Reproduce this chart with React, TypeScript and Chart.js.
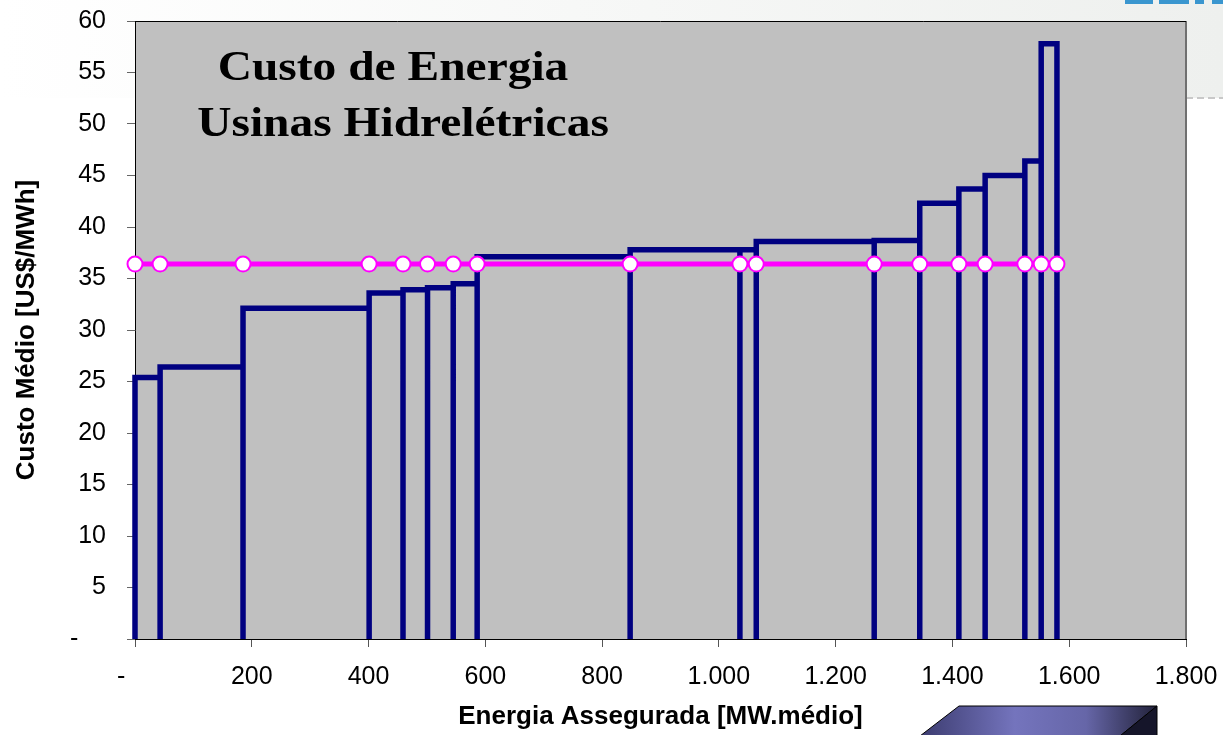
import React, { useEffect, useRef } from "react";
import { Chart, registerables } from "chart.js";

Chart.register(...registerables);

// Cumulative assured energy at each plant boundary [MW.médio]
const boundaries = [0, 43, 185, 401, 459, 501, 545, 586, 848, 1036, 1064, 1266, 1344, 1411, 1456, 1524, 1552, 1579];
// Average cost of each plant block [US$/MWh]
const costs = [25.4, 26.4, 32.1, 33.6, 33.9, 34.1, 34.5, 37.1, 37.8, 37.8, 38.6, 38.7, 42.3, 43.7, 45.0, 46.4, 57.8];
// Reference (marginal) price line [US$/MWh]
const referencePrice = 36.4;

const titleLines = ["Custo de Energia", "Usinas Hidrelétricas"];
const xAxisTitle = "Energia Assegurada [MW.médio]";
const yAxisTitle = "Custo Médio [US$/MWh]";
const xTicks = { min: 0, max: 1800, step: 200 };
const yTicks = { min: 0, max: 60, step: 5 };

const SANS = "Arial, 'Liberation Sans', sans-serif";
const SERIF = "'Times New Roman', 'Liberation Serif', serif";

function fmtThousands(v: number): string {
  if (v === 0) return "-    ";
  return String(v).replace(/\B(?=(\d{3})+(?!\d))/g, ".");
}

function buildSteps() {
  const pts: { x: number; y: number }[] = [];
  boundaries.forEach((b, i) => {
    if (i === 0) {
      pts.push({ x: b, y: 0 });
      pts.push({ x: b, y: costs[0] });
    } else {
      pts.push({ x: b, y: costs[i - 1] });
      pts.push({ x: b, y: 0 });
      if (i < costs.length) pts.push({ x: b, y: costs[i] });
    }
  });
  return pts;
}

const decorPlugin = {
  id: "decor",
  beforeDraw(chart: any) {
    const { ctx, chartArea } = chart;
    const W = chart.width;
    ctx.save();
    // top band
    const g = ctx.createLinearGradient(0, 0, W, 0);
    g.addColorStop(0, "#ffffff");
    g.addColorStop(1, "#eef0ee");
    ctx.fillStyle = g;
    ctx.fillRect(0, 0, W, 98);
    // logo fragments
    ctx.fillStyle = "#3a96cf";
    [[1125, 1153], [1159, 1189], [1195, 1204], [1212, 1223]].forEach(([a, b]) => ctx.fillRect(a, 0, b - a, 4));
    // dashed separator
    ctx.strokeStyle = "#c8c8c8";
    ctx.lineWidth = 2;
    ctx.setLineDash([7, 4]);
    ctx.beginPath();
    ctx.moveTo(chartArea.right, 98);
    ctx.lineTo(W, 98);
    ctx.stroke();
    ctx.setLineDash([]);
    // 3D box at bottom
    const tg = ctx.createLinearGradient(920, 0, 1157, 0);
    tg.addColorStop(0, "#3c3c70");
    tg.addColorStop(0.4, "#7474bd");
    tg.addColorStop(0.7, "#6666a8");
    tg.addColorStop(1, "#22223a");
    ctx.fillStyle = tg;
    ctx.beginPath();
    ctx.moveTo(959, 706);
    ctx.lineTo(1157, 706);
    ctx.lineTo(1120, 736);
    ctx.lineTo(920, 736);
    ctx.closePath();
    ctx.fill();
    ctx.strokeStyle = "#000";
    ctx.lineWidth = 1;
    ctx.stroke();
    ctx.fillStyle = "#15152a";
    ctx.beginPath();
    ctx.moveTo(1157, 706);
    ctx.lineTo(1157, 736);
    ctx.lineTo(1120, 736);
    ctx.closePath();
    ctx.fill();
    ctx.stroke();
    // plot background
    ctx.fillStyle = "#c0c0c0";
    ctx.fillRect(chartArea.left, chartArea.top, chartArea.right - chartArea.left, chartArea.bottom - chartArea.top);
    // right shadow border
    ctx.fillStyle = "#707070";
    ctx.fillRect(chartArea.right - 1, chartArea.top, 2, chartArea.bottom - chartArea.top);
    ctx.restore();
  },
  afterDraw(chart: any) {
    const { ctx, chartArea } = chart;
    ctx.save();
    // top border
    ctx.strokeStyle = "#000";
    ctx.lineWidth = 1;
    ctx.beginPath();
    ctx.moveTo(chartArea.left, chartArea.top + 0.5);
    ctx.lineTo(chartArea.right, chartArea.top + 0.5);
    ctx.stroke();
    // in-plot title
    ctx.fillStyle = "#000";
    ctx.font = `bold 42px ${SERIF}`;
    ctx.textAlign = "center";
    ctx.textBaseline = "alphabetic";
    const centers = [393, 403];
    const baselines = [80, 136];
    titleLines.forEach((t, i) => {
      ctx.save();
      ctx.translate(centers[i], baselines[i]);
      ctx.scale(1.13, 1);
      ctx.fillText(t, 0, 0);
      ctx.restore();
    });
    ctx.restore();
  },
};

export default function App() {
  const ref = useRef<HTMLCanvasElement | null>(null);
  useEffect(() => {
    if (!ref.current) return;
    const chart = new Chart(ref.current, {
      type: "line",
      data: {
        datasets: [
          {
            label: "Preço de referência",
            data: boundaries.map((b) => ({ x: b, y: referencePrice })),
            borderColor: "#ff00ff",
            borderWidth: 5,
            pointRadius: 7.5,
            pointBorderWidth: 2,
            pointBorderColor: "#ff00ff",
            pointBackgroundColor: "#ffffff",
            tension: 0,
            clip: false,
            order: 0,
          },
          {
            label: "Custo médio",
            data: buildSteps(),
            borderColor: "#000080",
            borderWidth: 5.5,
            borderJoinStyle: "miter",
            pointRadius: 0,
            tension: 0,
            clip: false,
            order: 1,
          },
        ],
      },
      options: {
        animation: false,
        responsive: false,
        devicePixelRatio: 1,
        layout: { padding: { top: 21, right: 37, left: 0, bottom: 0 } },
        plugins: { legend: { display: false }, tooltip: { enabled: false } },
        scales: {
          x: {
            type: "linear",
            min: xTicks.min,
            max: xTicks.max,
            afterFit: (s: any) => {
              s.height = 96;
              s.paddingLeft = 0;
              s.paddingRight = 0;
            },
            ticks: {
              stepSize: xTicks.step,
              color: "#000",
              font: { size: 25, family: SANS },
              padding: 15,
              maxRotation: 0,
              callback: (v: any) => fmtThousands(Number(v)),
            },
            grid: { drawOnChartArea: false, drawTicks: true, tickLength: 8, color: "#555" },
            border: { display: true, color: "#000", width: 1 },
            title: {
              display: true,
              text: xAxisTitle,
              color: "#000",
              font: { size: 26, weight: "bold", family: SANS },
              padding: { top: 0, bottom: 3 },
            },
          },
          y: {
            type: "linear",
            min: yTicks.min,
            max: yTicks.max,
            afterFit: (s: any) => {
              s.width = 135;
              s.paddingTop = 0;
              s.paddingBottom = 0;
            },
            ticks: {
              stepSize: yTicks.step,
              color: "#000",
              font: { size: 25, family: SANS },
              padding: 21,
              callback: (v: any) => (Number(v) === 0 ? "-    " : String(v)),
            },
            grid: { drawOnChartArea: false, drawTicks: true, tickLength: 8, color: "#666" },
            border: { display: true, color: "#000", width: 1 },
            title: {
              display: true,
              text: yAxisTitle,
              color: "#000",
              font: { size: 26, weight: "bold", family: SANS },
              padding: { top: 11, bottom: 0 },
            },
          },
        },
      } as any,
      plugins: [decorPlugin],
    });
    return () => chart.destroy();
  }, []);
  return (
    <div style={{ position: "fixed", left: 0, top: 0, width: 1223, height: 735, background: "#fff" }}>
      <canvas ref={ref} width={1223} height={735} style={{ display: "block", width: 1223, height: 735 }} />
    </div>
  );
}
